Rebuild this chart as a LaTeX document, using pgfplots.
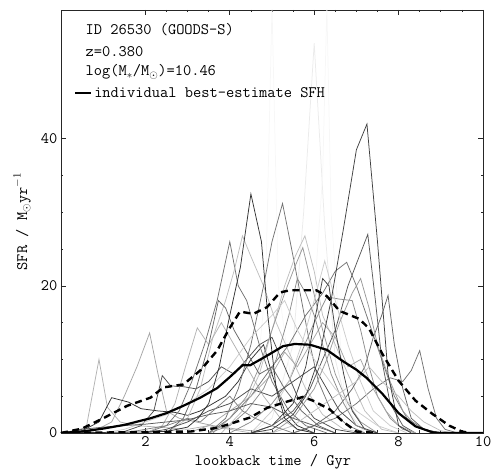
\documentclass[border=0pt]{standalone}
\usepackage{fontspec}
\usepackage{pgfplots}
\pgfplotsset{compat=1.18}
\newcommand{\tfont}{\fontsize{16}{19}\selectfont\ttfamily}
\begin{document}
\begin{tikzpicture}
\begin{axis}[
  scale only axis, width=422pt, height=423pt,
  xmin=0, xmax=10, ymin=0, ymax=57.5,
  xtick={2,4,6,8,10}, ytick={0,20,40},
  minor x tick num=3, minor y tick num=3,
  major tick length=5pt, minor tick length=2.5pt,
  tick align=inside, tick pos=both,
  axis line style={line width=0.8pt, black!85},
  every tick/.style={black!85, line width=0.7pt},
  ticklabel style={font=\tfont},
  /pgf/number format/assume math mode=true,
  xlabel={lookback time / Gyr},
  ylabel={SFR / M$_\odot$yr$^{-1}$},
  label style={font=\tfont},
  xlabel style={at={(axis description cs:0.502,-0.069)}, anchor=center},
  ylabel style={at={(axis description cs:-0.092,0.5)}, anchor=center},
  legend style={at={(axis description cs:0.03,0.804)}, anchor=west, draw=none, fill=none, font=\tfont, inner sep=0pt},
  legend cell align=left,
  legend image code/.code={\draw[#1, solid, line width=2.4pt] (0pt,0pt) -- (16pt,0pt);},
  g/.style={line width=0.75pt, forget plot},
]
% faint lines
\addplot[g, black!8] coordinates {(4.5,0)(5.0,2)(5.5,12)(5.75,30)(6.0,53)(6.25,28)(6.5,10)(6.8,3)(7.2,0)};
\addplot[g, black!3] coordinates {(4.3,0)(4.6,5)(4.85,20)(5.0,58)(5.15,20)(5.5,5)(6.0,0)};
\addplot[g, black!3] coordinates {(5.6,0)(5.9,10)(6.2,35)(6.3,58)(6.4,30)(6.7,6)(7.0,0)};
% gray lines
\addplot[g, black!30] coordinates {(0,0)(0.3,0.2)(0.6,0.8)(0.9,10)(1.1,3.5)(1.4,1.5)(1.8,1)(2.3,0.8)(3,0.5)(3.5,1)(4,0.5)(4.5,0)};
\addplot[g, black!35] coordinates {(0,0)(0.8,0.3)(1.2,1.5)(1.5,5)(1.8,9)(2.1,13.6)(2.3,8)(2.5,3)(2.8,2)(3.2,1.5)(3.6,1)(4.2,0.5)(5,0)};
\addplot[g, black!80] coordinates {(0,0)(0.5,0.3)(0.9,1.5)(1.2,4.8)(1.6,4.2)(1.9,3.3)(2.3,3)(2.7,2.8)(3.0,2.4)(3.3,3)(3.6,4)(3.9,5)(4.2,7)(4.5,10)(4.8,12)(5.0,8)(5.3,3)(5.6,1)(6.0,0)};
\addplot[g, black!70] coordinates {(1.5,0.2)(1.9,1)(2.2,3)(2.4,7.8)(2.6,6.4)(2.9,6.3)(3.2,6)(3.5,7)(3.8,9)(4.1,8)(4.4,10)(4.7,12)(5.0,13)(5.3,9)(5.6,5)(6.0,2)(6.5,0.5)(7,0)};
\addplot[g, black!55] coordinates {(2.0,0)(2.5,1)(2.8,3)(3.1,7)(3.4,12)(3.7,18)(4.0,26)(4.2,20)(4.4,18)(4.7,12)(5.0,7)(5.4,3)(5.8,1)(6.3,0)};
\addplot[g, black!25] coordinates {(2.5,0)(3,2)(3.3,6)(3.6,13)(3.9,18)(4.1,22)(4.3,26.8)(4.5,24)(4.8,20)(5.1,15)(5.4,11)(5.8,6)(6.2,2.5)(6.7,0.5)(7.2,0)};
\addplot[g, black!55] coordinates {(3.5,0)(3.9,2)(4.2,6)(4.5,12)(4.8,20)(5.0,26)(5.25,31.2)(5.5,24)(5.7,18)(5.9,12)(6.1,7)(6.4,3)(6.8,1)(7.2,0)};
\addplot[g, black!25] coordinates {(3.8,0)(4.3,3)(4.7,8)(5.0,14)(5.3,20)(5.55,24)(5.78,26.8)(6.0,22)(6.2,16)(6.5,12)(6.8,8)(7.2,3)(7.6,0.5)(8,0)};
\addplot[g, black!55] coordinates {(3.5,0)(4.0,2)(4.5,5)(5.0,9)(5.4,12)(5.8,16)(6.2,19)(6.5,22)(6.77,23.2)(7.0,20)(7.3,15)(7.6,10)(7.9,5)(8.2,2)(8.6,0.5)(9,0)};
\addplot[g, black!65] coordinates {(4.5,0)(5.0,1)(5.5,3)(5.9,6)(6.2,10)(6.5,14)(6.8,20)(7.0,23)(7.27,27)(7.45,18)(7.6,10)(7.8,4)(8.1,1)(8.4,0)};
\addplot[g, black!60] coordinates {(5.5,0)(6.0,1)(6.5,3)(6.9,6)(7.2,9)(7.4,13)(7.6,16)(7.75,18.7)(7.9,12)(8.1,6)(8.3,2)(8.6,0.5)(9,0)};
\addplot[g, black!55] coordinates {(5.5,0)(6.0,1)(6.5,2)(7.0,4)(7.4,6)(7.8,7.5)(8.1,7)(8.3,8.5)(8.5,11.2)(8.7,6)(8.9,2)(9.1,0.5)(9.4,0)};
\addplot[g, black!45] coordinates {(4.0,0)(4.5,1.5)(5.0,4)(5.4,7)(5.7,11)(6.0,15)(6.3,18.5)(6.6,18.2)(6.9,18)(7.1,14)(7.3,9)(7.5,5)(7.8,2)(8.1,0.5)(8.4,0)};
\addplot[g, black!40] coordinates {(3.6,0)(4.0,2)(4.4,5)(4.7,9)(5.0,14)(5.3,19)(5.5,22)(5.73,25.2)(5.95,20)(6.2,14)(6.5,8)(6.8,4)(7.1,1.5)(7.5,0)};
\addplot[g, black!20] coordinates {(4.5,0)(5.0,3)(5.4,7)(5.7,12)(6.0,18)(6.25,23.4)(6.5,18)(6.8,12)(7.1,7)(7.4,3)(7.8,1)(8.2,0)};
\addplot[g, black!30] coordinates {(2.0,0)(2.4,1)(2.7,4)(2.95,9)(3.23,14.3)(3.5,12)(3.8,15)(4.1,12)(4.4,9)(4.8,5)(5.2,2)(5.6,0.5)(6,0)};
\addplot[g, black!60] coordinates {(2.5,0)(2.9,2)(3.2,6)(3.5,12)(3.73,18)(3.9,17)(4.1,14)(4.4,11)(4.7,8)(5.0,9)(5.3,6)(5.7,3)(6.1,1)(6.5,0)};
\addplot[g, black!70] coordinates {(2,0)(2.5,0.5)(3,1.5)(3.5,3)(4,4)(4.5,6)(5,5)(5.5,7)(6,9)(6.3,6)(6.6,3)(7,1)(7.5,0)};
\addplot[g, black!35] coordinates {(3,0)(3.5,1)(4,3)(4.5,5)(5,8)(5.3,11)(5.6,9)(5.9,12)(6.2,15)(6.5,13)(6.8,9)(7.1,10)(7.4,6)(7.7,3)(8,1)(8.4,0)};
\addplot[g, black!75] coordinates {(4.5,0)(5,1)(5.5,4)(5.8,9)(6.0,15)(6.2,21)(6.35,20)(6.5,14)(6.7,8)(6.9,3)(7.2,0.5)(7.5,0)};
\addplot[g, black!45] coordinates {(3.5,0)(4,1)(4.4,3)(4.8,6)(5.1,10)(5.4,16)(5.6,21)(5.8,19)(6.0,16)(6.2,12)(6.4,8)(6.7,4)(7,1)(7.4,0)};
\addplot[g, black!20] coordinates {(1,0)(1.5,0.5)(2,1.5)(2.5,2.5)(3,4)(3.5,6)(4,9)(4.5,13)(5,16)(5.3,18)(5.6,14)(6,10)(6.5,6)(7,3)(7.5,1)(8,0)};
\addplot[g, black!65] coordinates {(0,0)(0.5,0.5)(1,0.8)(1.5,1)(2,1.2)(2.5,1.5)(3,1.8)(3.5,2.5)(4,3)(4.5,4)(5,3.5)(5.5,2)(6,1)(6.5,0)};
\addplot[g, black!40] coordinates {(5,0)(5.5,2)(6,6)(6.3,10)(6.6,15)(6.9,19)(7.1,21)(7.3,17)(7.5,12)(7.8,7)(8.1,3)(8.4,1)(8.8,0)};
\addplot[g, black!25] coordinates {(5,0)(5.5,1)(6,3)(6.5,5)(7,7)(7.3,9)(7.6,7)(8,5)(8.3,3)(8.6,1.5)(9,0.3)(9.3,0)};
\addplot[g, black!50] coordinates {(1.5,0)(2,0.5)(2.5,1)(3,2)(3.3,1.5)(3.6,3)(4,5)(4.3,3)(4.6,2)(5,1)(5.5,0)};
\addplot[g, black!80] coordinates {(0,0)(2.5,0.2)(3.0,0.8)(3.25,2)(3.5,4)(3.75,9)(4.0,16)(4.25,22.5)(4.5,32.5)(4.75,26)(4.9,16)(5.1,6)(5.3,2)(5.6,0.5)(6,0)};
\addplot[g, black!75] coordinates {(4.5,0)(5.0,0.5)(5.5,2.5)(5.8,5)(6.1,10)(6.4,18)(6.7,28)(7.0,38.5)(7.25,42)(7.5,26)(7.75,8)(8.0,1)(8.3,0)};
% percentile envelopes
\addplot[black, line width=2.4pt, dash pattern=on 7pt off 4.5pt, forget plot] coordinates {(0,0)(0.5,0.6)(1.0,2.0)(1.57,3.7)(2.12,4.8)(2.43,6.2)(2.9,6.6)(3.3,8.5)(3.7,11.2)(4.0,14.3)(4.24,16.5)(4.56,16.2)(4.88,17.1)(5.19,19.1)(5.42,19.4)(6.05,19.4)(6.3,18.6)(6.6,16.6)(7.07,15.5)(7.3,14.2)(7.62,10.7)(8.0,7.1)(8.4,4.4)(8.8,2.6)(9.2,1.0)(9.5,0.2)(9.7,0)};
\addplot[black, line width=2.4pt, dash pattern=on 7pt off 4.5pt, forget plot] coordinates {(0,0)(3.07,0.2)(3.7,0.7)(4.48,2.1)(4.88,3.4)(5.26,4.1)(5.73,4.9)(5.97,4.4)(6.37,3.2)(6.67,1.6)(7.0,0.2)(7.5,0)};
% best estimate
\addplot[black, line width=2.2pt] coordinates {(0,0)(0.5,0.2)(1.0,0.6)(1.5,1.1)(2.12,2.0)(2.5,2.7)(2.9,3.7)(3.3,4.8)(3.7,6.1)(4.0,7.6)(4.3,9.2)(4.48,9.2)(4.88,10.5)(5.26,11.8)(5.54,12.1)(5.9,12.0)(6.3,11.3)(6.67,9.8)(7.0,8.6)(7.24,7.5)(7.62,5.3)(8.0,2.7)(8.4,0.9)(8.8,0.1)(9.0,0)(10,0)};
\addlegendentry{individual best-estimate SFH}
\node[font=\tfont, anchor=west] at (axis description cs:0.05,0.953) {ID 26530 (GOODS-S)};
\node[font=\tfont, anchor=west] at (axis description cs:0.05,0.902) {z=0.380};
\node[font=\tfont, anchor=west] at (axis description cs:0.05,0.853) {log(M$_*$/M$_\odot$)=10.46};
\end{axis}
\pgfresetboundingbox
\path (-61pt,-40pt) rectangle (432pt,433pt);
\end{tikzpicture}
\end{document}
